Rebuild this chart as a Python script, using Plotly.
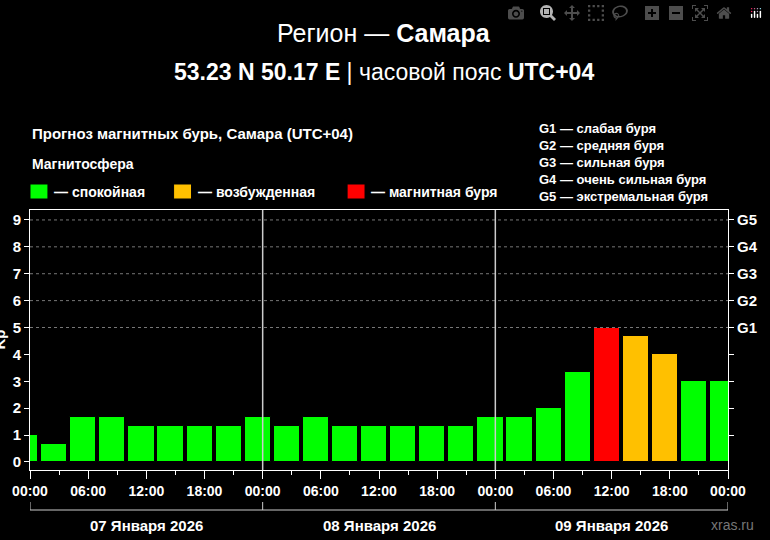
import plotly.graph_objects as go

hours = [-0.5 + 3 * k for k in range(25)]
kp = [1.0, 0.67, 1.67, 1.67, 1.33, 1.33, 1.33, 1.33, 1.67,
      1.33, 1.67, 1.33, 1.33, 1.33, 1.33, 1.33, 1.67,
      1.67, 2.0, 3.33, 5.0, 4.67, 4.0, 3.0, 3.0]
tick_labels = ["00:00", "06:00", "12:00", "18:00"] * 3 + ["00:00"]
day_labels = ["07 Января 2026", "08 Января 2026", "09 Января 2026"]
g_labels = ["G1", "G2", "G3", "G4", "G5"]
g_legend = ["G1 — слабая буря", "G2 — средняя буря", "G3 — сильная буря",
            "G4 — очень сильная буря", "G5 — экстремальная буря"]

def col(v):
    if v >= 5: return "#ff0000"
    if v >= 4: return "#ffc000"
    return "#00ff00"

F = "Liberation Sans, Arial, sans-serif"
fig = go.Figure()
fig.add_trace(go.Bar(x=hours, y=kp, width=2.7, marker=dict(color=[col(v) for v in kp],
              line=dict(color="black", width=1)), showlegend=False, hoverinfo="skip"))
fig.add_trace(go.Scatter(x=[None], y=[None], yaxis="y2", showlegend=False))

fig.update_layout(
    width=770, height=540, paper_bgcolor="black", plot_bgcolor="black",
    margin=dict(l=30, r=40, t=210, b=70), bargap=0,
    font=dict(family=F, color="white", size=14),
    xaxis=dict(range=[0, 72], tickvals=[6 * i for i in range(13)], ticktext=tick_labels,
               ticks="outside", ticklen=8, tickcolor="white", showgrid=False, zeroline=False,
               tickfont=dict(size=14, family=F, weight="bold"),
               minor=dict(tickvals=[3 + 6 * i for i in range(12)], ticks="outside", ticklen=4, tickcolor="white"),
               showline=True, linecolor="white", mirror=True),
    yaxis=dict(range=[-0.3, 9.37], tickvals=list(range(10)), ticks="outside", ticklen=5,
               tickcolor="white", showgrid=False, zeroline=False,
               tickfont=dict(size=15, family=F, weight="bold"),
               showline=True, linecolor="white", mirror=True),
    yaxis2=dict(range=[-0.3, 9.37], overlaying="y", side="right", tickvals=list(range(1, 10)),
                ticktext=["", "", "", ""] + g_labels, ticks="outside", ticklen=5, tickcolor="white",
                showgrid=False, zeroline=False, tickfont=dict(size=15, family=F, weight="bold")),
)
for v in range(5, 10):
    fig.add_shape(type="line", xref="x", yref="y", x0=0, x1=72, y0=v, y1=v,
                  line=dict(color="#777", width=1, dash="dot"))
for d in (24, 48):
    fig.add_shape(type="line", xref="x", yref="paper", x0=d, x1=d, y0=0, y1=1,
                  line=dict(color="#ccc", width=1.5))
ph = 260
def py(pix):
    return (470 - pix) / ph
fig.add_shape(type="line", xref="x", yref="paper", x0=0, x1=72, y0=py(510), y1=py(510),
              line=dict(color="#ccc", width=1))
for d in (0, 24, 48, 72):
    fig.add_shape(type="line", xref="x", yref="paper", x0=d, x1=d, y0=py(510), y1=py(502),
                  line=dict(color="#ccc", width=1))
for i, t in enumerate(day_labels):
    fig.add_annotation(x=12 + 24 * i, y=py(525), xref="x", yref="paper", text="<b>%s</b>" % t,
                       showarrow=False, font=dict(size=15), yanchor="middle")
fig.add_annotation(x=1.04, y=py(525), xref="paper", yref="paper", text="xras.ru", showarrow=False,
                   font=dict(size=14, color="#777"), xanchor="right", yanchor="middle")
fig.add_annotation(x=-0.045, y=0.5, xref="paper", yref="paper", text="<b>Kp</b>", textangle=-90,
                   showarrow=False, font=dict(size=15), xanchor="center")

def ann(x, y, text, size, anchor="left"):
    fig.add_annotation(x=(x - 30) / 700, y=py(y), xref="paper", yref="paper", text=text,
                       showarrow=False, xanchor=anchor, yanchor="middle", font=dict(size=size))
ann(385, 33, "Регион — <b>Самара</b>", 25, "center")
ann(385, 72, "<b>53.23 N 50.17 E</b> | часовой пояс <b>UTC+04</b>", 23, "center")
ann(30, 133, "<b>Прогноз магнитных бурь, Самара (UTC+04)</b>", 15)
ann(30, 164, "<b>Магнитосфера</b>", 14)
for x0, c, t in [(30, "#00ff00", "— спокойная"), (174, "#ffc000", "— возбужденная"),
                 (348, "#ff0000", "— магнитная буря")]:
    fig.add_shape(type="rect", xref="paper", yref="paper", x0=(x0 - 30) / 700, x1=(x0 - 12) / 700,
                  y0=py(199), y1=py(184), fillcolor=c, line=dict(color="black", width=1))
    ann(x0 + 22, 192, "<b>%s</b>" % t, 14)
for i, t in enumerate(g_legend):
    ann(538, 128 + 17.2 * i, "<b>%s</b>" % t, 13)

fig.write_html("out.html")
with open("out.html", encoding="utf-8") as f:
    html = f.read()
html = html.replace("<head>", "<head><style>html,body{margin:0;padding:0;background:black;overflow:hidden}</style>", 1)
with open("out.html", "w", encoding="utf-8") as f:
    f.write(html)
